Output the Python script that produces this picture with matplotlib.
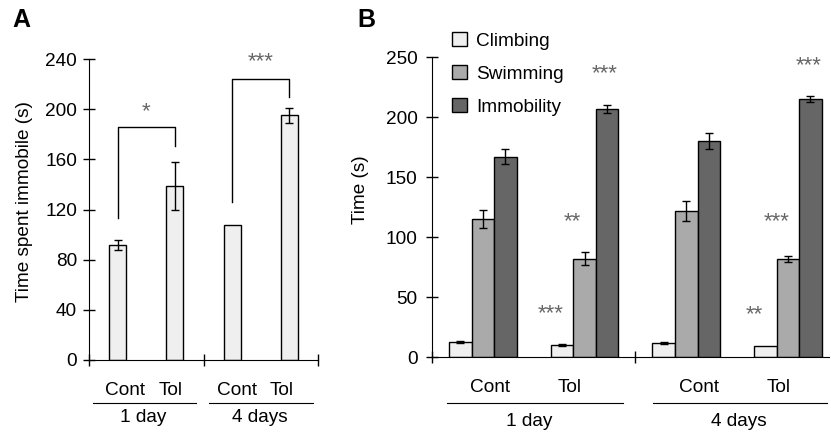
import matplotlib
matplotlib.use("Agg")
import matplotlib.pyplot as plt
import numpy as np

plt.rcParams['font.family'] = ['Liberation Sans', 'DejaVu Sans']

# panel A data
a_groups = ['Cont', 'Tol', 'Cont', 'Tol']
a_days = ['1 day', '4 days']
a_values = [92, 139, 108, 195]
a_errors = [4, 19, 0, 6]
a_yticks = [0, 40, 80, 120, 160, 200, 240]

# panel B data
b_series = ['Climbing', 'Swimming', 'Immobility']
b_colors = ['#efefef', '#aaaaaa', '#666666']
b_climbing = [12.5, 9.7, 11.7, 8.9]
b_climbing_err = [0.6, 0.8, 1.0, 0]
b_swimming = [115, 82, 121.5, 82]
b_swimming_err = [7.5, 5.3, 8.5, 2.5]
b_immobility = [167, 206.5, 180, 215]
b_immobility_err = [6.5, 3.5, 6.5, 2.8]
b_yticks = [0, 50, 100, 150, 200, 250]
b_stars = [(1, 0, '***', 36), (1, 1, '**', 113), (1, 2, '***', 236),
           (3, 0, '**', 35), (3, 1, '***', 112.5), (3, 2, '***', 243)]

fs = 13.7
star_fs = 16
star_col = '#666666'
fig = plt.figure(figsize=(8.31, 4.37), dpi=100)

# ---------- A ----------
axA = fig.add_axes([89 / 831, 1 - 360 / 437, 229 / 831, 301 / 437])
xa = np.arange(4) + 0.5
axA.bar(xa, a_values, width=0.3, color='#efefef', edgecolor='black', linewidth=1.0,
        yerr=[e if e > 0 else np.nan for e in a_errors], capsize=3,
        error_kw=dict(elinewidth=1.0, capthick=1.0, ecolor='black'))
axA.set_xlim(0, 4)
axA.set_ylim(0, 240)
axA.set_yticks(a_yticks)
axA.set_xticks([0, 2, 4])
axA.set_xticklabels([])
axA.tick_params(axis='both', direction='inout', length=9, width=1.0, labelsize=fs)
axA.tick_params(axis='y', pad=4)
for s in ['top', 'right']:
    axA.spines[s].set_visible(False)
axA.set_ylabel('Time spent immobile (s)', fontsize=fs)
axA.yaxis.set_label_coords(-0.245, 0.528)

# significance brackets
def bracket(ax, x0, x1, y0, yb, y1, txt, ty):
    ax.plot([x0, x0, x1, x1], [y0, yb, yb, y1], color='black', lw=1.0, clip_on=False)
    ax.text((x0 + x1) / 2, ty, txt, ha='center', va='center', fontsize=star_fs,
            color=star_col, clip_on=False)

bracket(axA, xa[0], xa[1], 113, 186, 171, '*', 198)
bracket(axA, xa[2], xa[3], 126, 224, 210, '***', 238)

trA = axA.get_xaxis_transform()
for x, g in zip([0.63, 1.42, 2.58, 3.37], a_groups):
    axA.text(x, -0.10, g, transform=trA, ha='center', va='center', fontsize=fs)
for (x0, x1), xc, d in zip([(0.07, 1.87), (2.1, 3.91)], [0.95, 2.99], a_days):
    axA.plot([x0, x1], [-0.143, -0.143], transform=trA, color='black', lw=0.8, clip_on=False)
    axA.text(xc, -0.19, d, transform=trA, ha='center', va='center', fontsize=fs)

fig.text(12 / 831, 1 - 20 / 437, 'A', fontsize=18, fontweight='bold', va='center', ha='left')

# ---------- B ----------
axB = fig.add_axes([432 / 831, 1 - 357 / 437, 396.6 / 831, 300 / 437])
xb = np.arange(4) + 0.5
w = 0.222
b_vals = [b_climbing, b_swimming, b_immobility]
b_errs = [b_climbing_err, b_swimming_err, b_immobility_err]
for i, (name, col, vals, errs) in enumerate(zip(b_series, b_colors, b_vals, b_errs)):
    axB.bar(xb + (i - 1) * w, vals, width=w, color=col, edgecolor='black', linewidth=1.0,
            yerr=[e if e > 0 else np.nan for e in errs], capsize=3, label=name,
            error_kw=dict(elinewidth=1.0, capthick=1.0, ecolor='black'))
for g, i, txt, y in b_stars:
    xs = {0: xb[g] - 1.5 * w, 1: xb[g] - 0.55 * w, 2: xb[g] + 0.9 * w}[i]
    if g == 3 and i == 1:
        xs = xb[g] - 0.5 * w
    axB.text(xs, y, txt, ha='center', va='center', fontsize=star_fs, color=star_col,
             clip_on=False)

axB.set_xlim(0, 3.9)
axB.set_ylim(0, 250)
axB.set_yticks(b_yticks)
axB.set_xticks([0, 2])
axB.set_xticklabels([])
axB.tick_params(axis='both', direction='inout', length=9, width=1.0, labelsize=fs)
axB.tick_params(axis='y', pad=6)
for s in ['top', 'right']:
    axB.spines[s].set_visible(False)
axB.set_ylabel('Time (s)', fontsize=fs)
axB.yaxis.set_label_coords(-0.16, 0.557)

trB = axB.get_xaxis_transform()
for x, g in zip([0.57, 1.35, 2.63, 3.41], a_groups):
    axB.text(x, -0.10, g, transform=trB, ha='center', va='center', fontsize=fs)
for (x0, x1), xc, d in zip([(0.15, 1.88), (2.17, 3.88)], [0.96, 3.02], a_days):
    axB.plot([x0, x1], [-0.153, -0.153], transform=trB, color='black', lw=0.8, clip_on=False)
    axB.text(xc, -0.215, d, transform=trB, ha='center', va='center', fontsize=fs)

axB.legend(loc='upper left', bbox_to_anchor=(0.03, 1.11), frameon=False, fontsize=fs,
           handlelength=0.8, handleheight=0.8, handletextpad=0.5, labelspacing=0.8,
           borderaxespad=0)

fig.text(357 / 831, 1 - 20 / 437, 'B', fontsize=18, fontweight='bold', va='center', ha='left')

fig.savefig('out.png', dpi=100)
